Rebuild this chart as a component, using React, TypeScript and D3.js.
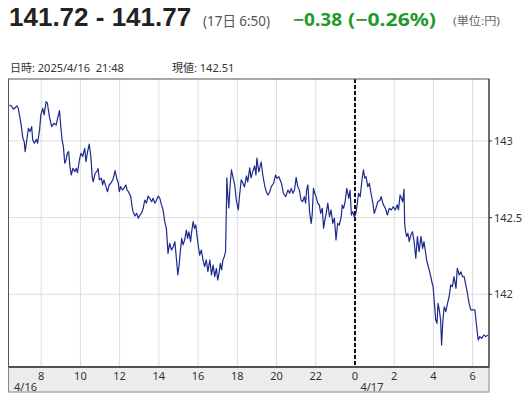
import React from 'react';
import * as d3 from 'd3';

// USD/JPY intraday, 4/16 06:20 - 4/17 06:50
const times: string[] = [
  "16 06:23", "16 06:30", "16 06:35", "16 06:46", "16 06:50", "16 06:58", "16 07:04", "16 07:08", "16 07:11", "16 07:16",
  "16 07:21", "16 07:26", "16 07:31", "16 07:34", "16 07:39", "16 07:45", "16 07:49", "16 07:55", "16 07:59", "16 08:05",
  "16 08:09", "16 08:15", "16 08:19", "16 08:25", "16 08:32", "16 08:39", "16 08:46", "16 08:50", "16 08:53", "16 08:56",
  "16 09:00", "16 09:04", "16 09:08", "16 09:12", "16 09:16", "16 09:20", "16 09:24", "16 09:28", "16 09:32", "16 09:37",
  "16 09:43", "16 09:47", "16 09:51", "16 09:57", "16 10:02", "16 10:07", "16 10:13", "16 10:17", "16 10:22", "16 10:27",
  "16 10:32", "16 10:36", "16 10:39", "16 10:45", "16 10:50", "16 10:54", "16 10:58", "16 11:04", "16 11:08", "16 11:12",
  "16 11:18", "16 11:23", "16 11:28", "16 11:33", "16 11:39", "16 11:43", "16 11:46", "16 11:51", "16 11:56", "16 11:59",
  "16 12:03", "16 12:09", "16 12:13", "16 12:19", "16 12:23", "16 12:27", "16 12:34", "16 12:38", "16 12:41", "16 12:47",
  "16 12:52", "16 12:57", "16 13:02", "16 13:07", "16 13:12", "16 13:17", "16 13:22", "16 13:27", "16 13:32", "16 13:38",
  "16 13:42", "16 13:48", "16 13:53", "16 13:58", "16 14:03", "16 14:08", "16 14:13", "16 14:18", "16 14:23", "16 14:28",
  "16 14:33", "16 14:39", "16 14:44", "16 14:49", "16 14:54", "16 14:58", "16 15:02", "16 15:06", "16 15:10", "16 15:14",
  "16 15:19", "16 15:24", "16 15:28", "16 15:32", "16 15:37", "16 15:41", "16 15:45", "16 15:49", "16 15:53", "16 15:57",
  "16 16:01", "16 16:05", "16 16:10", "16 16:15", "16 16:20", "16 16:25", "16 16:30", "16 16:36", "16 16:41", "16 16:46",
  "16 16:51", "16 16:56", "16 17:00", "16 17:04", "16 17:08", "16 17:12", "16 17:16", "16 17:20", "16 17:24", "16 17:27",
  "16 17:28", "16 17:31", "16 17:34", "16 17:38", "16 17:42", "16 17:46", "16 17:52", "16 17:57", "16 18:03", "16 18:07",
  "16 18:12", "16 18:17", "16 18:22", "16 18:28", "16 18:32", "16 18:38", "16 18:42", "16 18:47", "16 18:53", "16 18:57",
  "16 19:00", "16 19:04", "16 19:06", "16 19:13", "16 19:18", "16 19:24", "16 19:29", "16 19:34", "16 19:39", "16 19:44",
  "16 19:51", "16 19:57", "16 20:01", "16 20:07", "16 20:11", "16 20:15", "16 20:21", "16 20:28", "16 20:35", "16 20:40",
  "16 20:45", "16 20:50", "16 20:55", "16 21:00", "16 21:05", "16 21:10", "16 21:15", "16 21:20", "16 21:25", "16 21:29",
  "16 21:32", "16 21:36", "16 21:41", "16 21:46", "16 21:49", "16 21:53", "16 21:57", "16 22:01", "16 22:06", "16 22:11",
  "16 22:15", "16 22:20", "16 22:24", "16 22:28", "16 22:32", "16 22:37", "16 22:42", "16 22:47", "16 22:52", "16 22:57",
  "16 23:02", "16 23:07", "16 23:12", "16 23:18", "16 23:21", "16 23:25", "16 23:29", "16 23:35", "16 23:41", "16 23:45",
  "16 23:49", "16 23:53", "16 23:58", "17 00:03", "17 00:07", "17 00:11", "17 00:16", "17 00:22", "17 00:26", "17 00:30",
  "17 00:34", "17 00:39", "17 00:44", "17 00:49", "17 00:54", "17 00:59", "17 01:04", "17 01:10", "17 01:17", "17 01:20",
  "17 01:27", "17 01:33", "17 01:39", "17 01:45", "17 01:51", "17 01:57", "17 02:03", "17 02:09", "17 02:13", "17 02:18",
  "17 02:22", "17 02:26", "17 02:30", "17 02:32", "17 02:34", "17 02:38", "17 02:42", "17 02:46", "17 02:51", "17 02:56",
  "17 03:01", "17 03:06", "17 03:11", "17 03:16", "17 03:22", "17 03:27", "17 03:31", "17 03:35", "17 03:39", "17 03:43",
  "17 03:47", "17 03:52", "17 03:55", "17 03:59", "17 04:03", "17 04:07", "17 04:11", "17 04:14", "17 04:18", "17 04:22",
  "17 04:25", "17 04:29", "17 04:33", "17 04:38", "17 04:43", "17 04:48", "17 04:53", "17 04:58", "17 05:03", "17 05:09",
  "17 05:13", "17 05:19", "17 05:24", "17 05:29", "17 05:34", "17 05:39", "17 05:44", "17 05:49", "17 05:54", "17 06:07",
  "17 06:11", "17 06:17", "17 06:22", "17 06:28", "17 06:34", "17 06:40", "17 06:46"
];

const prices: number[] = [
  143.235, 143.224, 143.207, 143.228, 143.213, 143.115, 143.018, 142.996, 142.93, 143.006,
  143.083, 143.061, 143.093, 143.006, 142.985, 143.011, 142.985, 143.072, 143.17, 143.213,
  143.17, 143.256, 143.246, 143.159, 143.093, 143.115, 143.104, 143.148, 143.17, 143.198,
  143.093, 143.006, 142.963, 142.855, 142.876, 142.92, 142.93, 142.832, 142.778, 142.822,
  142.8, 142.822, 142.793, 142.876, 142.92, 142.898, 142.952, 142.865, 142.93, 142.98,
  142.898, 142.767, 142.734, 142.789, 142.8, 142.82, 142.746, 142.757, 142.713, 142.746,
  142.702, 142.669, 142.713, 142.724, 142.746, 142.778, 142.806, 142.757, 142.724, 142.669,
  142.702, 142.68, 142.691, 142.713, 142.68, 142.669, 142.637, 142.571, 142.539, 142.511,
  142.528, 142.496, 142.517, 142.528, 142.561, 142.615, 142.594, 142.641, 142.626, 142.604,
  142.626, 142.594, 142.615, 142.641, 142.626, 142.583, 142.55, 142.474, 142.43, 142.267,
  142.333, 142.289, 142.31, 142.343, 142.224, 142.126, 142.191, 142.289, 142.365, 142.322,
  142.354, 142.419, 142.365, 142.408, 142.343, 142.419, 142.474, 142.43, 142.452, 142.376,
  142.31, 142.256, 142.289, 142.224, 142.18, 142.224, 142.148, 142.224, 142.126, 142.191,
  142.115, 142.17, 142.093, 142.137, 142.202, 142.159, 142.224, 142.245, 142.278, 142.615,
  142.759, 142.648, 142.563, 142.713, 142.811, 142.772, 142.713, 142.615, 142.55, 142.648,
  142.746, 142.726, 142.7, 142.772, 142.733, 142.824, 142.759, 142.798, 142.837, 142.778,
  142.889, 142.824, 142.798, 142.863, 142.778, 142.706, 142.667, 142.648, 142.667, 142.702,
  142.724, 142.778, 142.757, 142.767, 142.746, 142.724, 142.659, 142.637, 142.68, 142.659,
  142.691, 142.659, 142.68, 142.763, 142.702, 142.68, 142.615, 142.604, 142.637, 142.594,
  142.68, 142.713, 142.539, 142.463, 142.517, 142.691, 142.659, 142.637, 142.594, 142.583,
  142.528, 142.561, 142.431, 142.485, 142.528, 142.594, 142.506, 142.55, 142.463, 142.496,
  142.354, 142.463, 142.452, 142.506, 142.583, 142.561, 142.594, 142.691, 142.626, 142.68,
  142.517, 142.539, 142.506, 142.528, 142.594, 142.659, 142.637, 142.757, 142.811, 142.757,
  142.767, 142.702, 142.724, 142.659, 142.604, 142.528, 142.561, 142.604, 142.615, 142.637,
  142.583, 142.561, 142.517, 142.561, 142.55, 142.571, 142.55, 142.583, 142.55, 142.648,
  142.626, 142.604, 142.685, 142.463, 142.42, 142.376, 142.398, 142.343, 142.387, 142.408,
  142.343, 142.235, 142.376, 142.278, 142.376, 142.3, 142.343, 142.289, 142.224, 142.191,
  142.159, 142.115, 142.082, 142.05, 141.941, 141.832, 141.811, 141.941, 141.898, 141.832,
  141.669, 141.832, 141.919, 141.887, 141.941, 141.984, 142.061, 142.05, 142.115, 142.039,
  142.17, 142.126, 142.147, 142.115, 142.115, 142.061, 142.007, 141.941, 141.898, 141.898,
  141.811, 141.702, 141.724, 141.713, 141.735, 141.724, 141.735
];

const yTicks = [142, 142.5, 143];
const dayLabels = ["4/16", "4/17"];
const rangeText = "141.72 - 141.77";
const timeText = "(17日 6:50)";
const changeText = "−0.38";
const changePctText = "(−0.26%)";
const unitText = "(単位:円)";
const cursorText = "日時: 2025/4/16  21:48";
const cursorValueText = "現値: 142.51";

const parse = d3.timeParse("%Y-%m-%d %H:%M");
const data = times.map((t, i) => ({ date: parse(`2025-04-${t}`) as Date, value: prices[i] }));

const width = 529;
const height = 400;
const left = 8.5;
const right = 489;
const top = 79;
const bottom = 367;
const bandBottom = 392;
const font = "'Noto Sans', 'Noto Sans CJK JP', sans-serif";
const titleFont = "'Liberation Sans', Arial, sans-serif";

const App: React.FC = () => {
  const x = d3.scaleTime()
    .domain([parse("2025-04-16 06:20") as Date, parse("2025-04-17 06:50") as Date])
    .range([left, right]);
  const y = d3.scaleLinear().domain([141.526, 143.404]).range([bottom, top]);

  const xTicks = x.ticks(d3.timeHour.every(2) as d3.TimeInterval);
  const days = d3.timeDay.range(d3.timeDay.floor(x.domain()[0]), x.domain()[1]);
  const midnight = parse("2025-04-17 00:00") as Date;

  const line = d3.line<{ date: Date; value: number }>()
    .x(d => x(d.date))
    .y(d => y(d.value));

  return (
    <svg width={width} height={height} style={{ position: 'absolute', left: 0, top: 0, display: 'block' }}>
      <rect width={width} height={height} fill="#fff" />

      {/* header */}
      <text x={9} y={26} fontFamily={titleFont} fontWeight="bold" fontSize={26} fill="#222">{rangeText}</text>
      <text x={203} y={26} fontFamily={font} fontSize={14} fill="#555"
        textLength={67} lengthAdjust="spacingAndGlyphs">{timeText}</text>
      <text x={293} y={26} fontFamily={font} fontWeight="bold" fontSize={18} fill="#1f9a2a"
        textLength={49} lengthAdjust="spacingAndGlyphs">{changeText}</text>
      <text x={348} y={26} fontFamily={font} fontWeight="bold" fontSize={18} fill="#1f9a2a"
        textLength={88} lengthAdjust="spacingAndGlyphs">{changePctText}</text>
      <text x={453} y={25} fontFamily={font} fontSize={11} fill="#666"
        textLength={47} lengthAdjust="spacingAndGlyphs">{unitText}</text>

      <text x={10} y={72} fontFamily={font} fontSize={11} fill="#333" style={{ whiteSpace: 'pre' }}>{cursorText}</text>
      <text x={172} y={72} fontFamily={font} fontSize={11} fill="#333">{cursorValueText}</text>

      {/* plot area */}
      <rect x={left} y={top} width={right - left} height={bottom - top} fill="#fff" />
      <g stroke="#dcdcdc" strokeWidth={1}>
        {xTicks.map(t => (
          <line key={+t} x1={x(t)} x2={x(t)} y1={top} y2={bottom} />
        ))}
        {yTicks.map(v => (
          <line key={v} x1={left} x2={right} y1={y(v)} y2={y(v)} />
        ))}
      </g>

      <line x1={x(midnight)} x2={x(midnight)} y1={top} y2={bottom}
        stroke="#111" strokeWidth={2} strokeDasharray="4,2" />

      <path d={line(data) ?? ''} fill="none" stroke="#1c2a8c" strokeWidth={1.2} strokeLinejoin="round" />

      <rect x={left} y={top} width={right - left} height={bottom - top} fill="none" stroke="#555" strokeWidth={1} />
      <line x1={right} x2={right} y1={top} y2={bottom} stroke="#333" strokeWidth={1} />

      {/* right axis */}
      {yTicks.map(v => (
        <g key={v}>
          <line x1={right} x2={right + 3} y1={y(v)} y2={y(v)} stroke="#333" />
          <text x={right + 5} y={y(v)} dy="0.36em" fontFamily={font} fontSize={11} fill="#333">{v}</text>
        </g>
      ))}

      {/* bottom time band */}
      <rect x={left} y={bottom} width={right - left} height={bandBottom - bottom} fill="#ececec" stroke="#888" strokeWidth={1} />
      <line x1={left} x2={right} y1={bottom} y2={bottom} stroke="#333" strokeWidth={1.5} />
      {xTicks.map(t => (
        <text key={+t} x={x(t)} y={379.5} textAnchor="middle" fontFamily={font} fontSize={11} fill="#333">
          {d3.timeFormat("%-H")(t)}
        </text>
      ))}
      {days.map((d, i) => (
        <text key={i} x={Math.max(x(d), left) + 5.5} y={390.5} fontFamily={font} fontSize={11} fill="#333">
          {dayLabels[i]}
        </text>
      ))}
    </svg>
  );
};

export default App;
